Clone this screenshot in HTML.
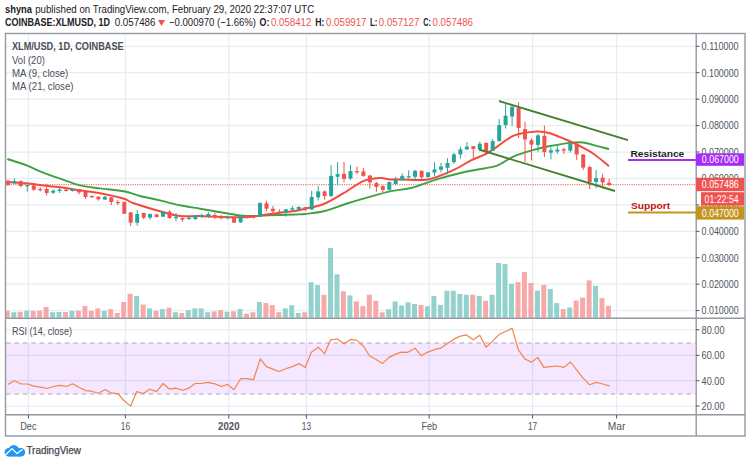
<!DOCTYPE html>
<html><head><meta charset="utf-8">
<style>
html,body{margin:0;padding:0;background:#fff;width:750px;height:465px;overflow:hidden}
svg{position:absolute;left:0;top:0;display:block}
</style></head><body>
<svg width="750" height="465" viewBox="0 0 750 465">
<line x1="28.4" y1="34" x2="28.4" y2="414" stroke="#e5eef3" stroke-width="1.25"/>
<line x1="125.4" y1="34" x2="125.4" y2="414" stroke="#e5eef3" stroke-width="1.25"/>
<line x1="228.8" y1="34" x2="228.8" y2="414" stroke="#e5eef3" stroke-width="1.25"/>
<line x1="306.4" y1="34" x2="306.4" y2="414" stroke="#e5eef3" stroke-width="1.25"/>
<line x1="429.2" y1="34" x2="429.2" y2="414" stroke="#e5eef3" stroke-width="1.25"/>
<line x1="532.6" y1="34" x2="532.6" y2="414" stroke="#e5eef3" stroke-width="1.25"/>
<line x1="616.6" y1="34" x2="616.6" y2="414" stroke="#e5eef3" stroke-width="1.25"/>
<line x1="6" y1="46.3" x2="696" y2="46.3" stroke="#e5eef3" stroke-width="1.25"/>
<line x1="6" y1="72.7" x2="696" y2="72.7" stroke="#e5eef3" stroke-width="1.25"/>
<line x1="6" y1="99.2" x2="696" y2="99.2" stroke="#e5eef3" stroke-width="1.25"/>
<line x1="6" y1="125.6" x2="696" y2="125.6" stroke="#e5eef3" stroke-width="1.25"/>
<line x1="6" y1="152.0" x2="696" y2="152.0" stroke="#e5eef3" stroke-width="1.25"/>
<line x1="6" y1="178.4" x2="696" y2="178.4" stroke="#e5eef3" stroke-width="1.25"/>
<line x1="6" y1="204.9" x2="696" y2="204.9" stroke="#e5eef3" stroke-width="1.25"/>
<line x1="6" y1="231.3" x2="696" y2="231.3" stroke="#e5eef3" stroke-width="1.25"/>
<line x1="6" y1="257.7" x2="696" y2="257.7" stroke="#e5eef3" stroke-width="1.25"/>
<line x1="6" y1="284.2" x2="696" y2="284.2" stroke="#e5eef3" stroke-width="1.25"/>
<line x1="6" y1="310.6" x2="696" y2="310.6" stroke="#e5eef3" stroke-width="1.25"/>
<line x1="6" y1="329.8" x2="696" y2="329.8" stroke="#e5eef3" stroke-width="1.25"/>
<line x1="6" y1="355.4" x2="696" y2="355.4" stroke="#e5eef3" stroke-width="1.25"/>
<line x1="6" y1="380.7" x2="696" y2="380.7" stroke="#e5eef3" stroke-width="1.25"/>
<line x1="6" y1="406.0" x2="696" y2="406.0" stroke="#e5eef3" stroke-width="1.25"/>
<rect x="6" y="343" width="689" height="51" fill="#9915ff" fill-opacity="0.1"/>
<line x1="6" y1="343" x2="696" y2="343" stroke="#c6c0cb" stroke-width="1.5" stroke-dasharray="4.5,3.9"/>
<line x1="6" y1="394" x2="696" y2="394" stroke="#c6c0cb" stroke-width="1.5" stroke-dasharray="4.5,3.9"/>
<rect x="6.0" y="310.8" width="3.8" height="6.9" fill="#f7a9a8"/>
<rect x="11.3" y="312.2" width="5.0" height="5.5" fill="#93d2cc"/>
<rect x="17.7" y="311.8" width="5.0" height="5.9" fill="#f7a9a8"/>
<rect x="24.2" y="310.8" width="5.0" height="6.9" fill="#93d2cc"/>
<rect x="30.7" y="310.8" width="5.0" height="6.9" fill="#f7a9a8"/>
<rect x="37.1" y="310.8" width="5.0" height="6.9" fill="#f7a9a8"/>
<rect x="43.6" y="307.0" width="5.0" height="10.7" fill="#f7a9a8"/>
<rect x="50.1" y="312.2" width="5.0" height="5.5" fill="#93d2cc"/>
<rect x="56.5" y="312.0" width="5.0" height="5.7" fill="#93d2cc"/>
<rect x="63.0" y="312.0" width="5.0" height="5.7" fill="#f7a9a8"/>
<rect x="69.4" y="310.8" width="5.0" height="6.9" fill="#93d2cc"/>
<rect x="75.9" y="310.8" width="5.0" height="6.9" fill="#f7a9a8"/>
<rect x="82.4" y="306.0" width="5.0" height="11.7" fill="#f7a9a8"/>
<rect x="88.8" y="310.8" width="5.0" height="6.9" fill="#f7a9a8"/>
<rect x="95.3" y="308.4" width="5.0" height="9.3" fill="#f7a9a8"/>
<rect x="101.8" y="310.8" width="5.0" height="6.9" fill="#93d2cc"/>
<rect x="108.2" y="309.1" width="5.0" height="8.6" fill="#f7a9a8"/>
<rect x="114.7" y="313.0" width="5.0" height="4.7" fill="#f7a9a8"/>
<rect x="121.2" y="302.0" width="5.0" height="15.7" fill="#f7a9a8"/>
<rect x="127.6" y="293.8" width="5.0" height="23.9" fill="#f7a9a8"/>
<rect x="134.1" y="296.1" width="5.0" height="21.6" fill="#93d2cc"/>
<rect x="140.6" y="304.5" width="5.0" height="13.2" fill="#f7a9a8"/>
<rect x="147.0" y="308.4" width="5.0" height="9.3" fill="#93d2cc"/>
<rect x="153.5" y="310.8" width="5.0" height="6.9" fill="#f7a9a8"/>
<rect x="159.9" y="309.1" width="5.0" height="8.6" fill="#93d2cc"/>
<rect x="166.4" y="307.7" width="5.0" height="10.0" fill="#f7a9a8"/>
<rect x="172.9" y="312.2" width="5.0" height="5.5" fill="#93d2cc"/>
<rect x="179.3" y="313.0" width="5.0" height="4.7" fill="#f7a9a8"/>
<rect x="185.8" y="310.0" width="5.0" height="7.7" fill="#93d2cc"/>
<rect x="192.3" y="308.4" width="5.0" height="9.3" fill="#93d2cc"/>
<rect x="198.7" y="308.4" width="5.0" height="9.3" fill="#93d2cc"/>
<rect x="205.2" y="312.2" width="5.0" height="5.5" fill="#93d2cc"/>
<rect x="211.7" y="311.3" width="5.0" height="6.4" fill="#f7a9a8"/>
<rect x="218.1" y="310.0" width="5.0" height="7.7" fill="#f7a9a8"/>
<rect x="224.6" y="311.8" width="5.0" height="5.9" fill="#93d2cc"/>
<rect x="231.0" y="311.3" width="5.0" height="6.4" fill="#f7a9a8"/>
<rect x="237.5" y="309.1" width="5.0" height="8.6" fill="#93d2cc"/>
<rect x="244.0" y="313.7" width="5.0" height="4.0" fill="#f7a9a8"/>
<rect x="250.4" y="312.2" width="5.0" height="5.5" fill="#f7a9a8"/>
<rect x="256.9" y="302.0" width="5.0" height="15.7" fill="#93d2cc"/>
<rect x="263.4" y="303.0" width="5.0" height="14.7" fill="#f7a9a8"/>
<rect x="269.8" y="305.2" width="5.0" height="12.5" fill="#f7a9a8"/>
<rect x="276.3" y="312.2" width="5.0" height="5.5" fill="#f7a9a8"/>
<rect x="282.8" y="308.4" width="5.0" height="9.3" fill="#93d2cc"/>
<rect x="289.2" y="305.2" width="5.0" height="12.5" fill="#93d2cc"/>
<rect x="295.7" y="313.0" width="5.0" height="4.7" fill="#93d2cc"/>
<rect x="302.2" y="312.3" width="5.0" height="5.4" fill="#f7a9a8"/>
<rect x="308.6" y="282.2" width="5.0" height="35.5" fill="#93d2cc"/>
<rect x="315.1" y="285.1" width="5.0" height="32.6" fill="#93d2cc"/>
<rect x="321.5" y="294.7" width="5.0" height="23.0" fill="#f7a9a8"/>
<rect x="328.0" y="248.1" width="5.0" height="69.6" fill="#93d2cc"/>
<rect x="334.5" y="274.4" width="5.0" height="43.3" fill="#93d2cc"/>
<rect x="340.9" y="291.3" width="5.0" height="26.4" fill="#f7a9a8"/>
<rect x="347.4" y="295.4" width="5.0" height="22.3" fill="#93d2cc"/>
<rect x="353.9" y="301.4" width="5.0" height="16.3" fill="#f7a9a8"/>
<rect x="360.3" y="306.1" width="5.0" height="11.6" fill="#f7a9a8"/>
<rect x="366.8" y="294.7" width="5.0" height="23.0" fill="#f7a9a8"/>
<rect x="373.3" y="300.8" width="5.0" height="16.9" fill="#f7a9a8"/>
<rect x="379.7" y="312.3" width="5.0" height="5.4" fill="#f7a9a8"/>
<rect x="386.2" y="309.2" width="5.0" height="8.5" fill="#93d2cc"/>
<rect x="392.6" y="301.4" width="5.0" height="16.3" fill="#93d2cc"/>
<rect x="399.1" y="305.4" width="5.0" height="12.3" fill="#93d2cc"/>
<rect x="405.6" y="302.3" width="5.0" height="15.4" fill="#93d2cc"/>
<rect x="412.0" y="304.0" width="5.0" height="13.7" fill="#93d2cc"/>
<rect x="418.5" y="304.9" width="5.0" height="12.8" fill="#f7a9a8"/>
<rect x="425.0" y="306.3" width="5.0" height="11.4" fill="#93d2cc"/>
<rect x="431.4" y="295.9" width="5.0" height="21.8" fill="#93d2cc"/>
<rect x="437.9" y="304.9" width="5.0" height="12.8" fill="#93d2cc"/>
<rect x="444.4" y="290.8" width="5.0" height="26.9" fill="#93d2cc"/>
<rect x="450.8" y="290.8" width="5.0" height="26.9" fill="#93d2cc"/>
<rect x="457.3" y="293.9" width="5.0" height="23.8" fill="#93d2cc"/>
<rect x="463.8" y="294.7" width="5.0" height="23.0" fill="#93d2cc"/>
<rect x="470.2" y="294.7" width="5.0" height="23.0" fill="#f7a9a8"/>
<rect x="476.7" y="295.9" width="5.0" height="21.8" fill="#93d2cc"/>
<rect x="483.1" y="300.8" width="5.0" height="16.9" fill="#f7a9a8"/>
<rect x="489.6" y="294.7" width="5.0" height="23.0" fill="#93d2cc"/>
<rect x="496.1" y="262.9" width="5.0" height="54.8" fill="#93d2cc"/>
<rect x="502.5" y="264.1" width="5.0" height="53.6" fill="#93d2cc"/>
<rect x="509.0" y="283.8" width="5.0" height="33.9" fill="#93d2cc"/>
<rect x="515.5" y="282.1" width="5.0" height="35.6" fill="#f7a9a8"/>
<rect x="521.9" y="272.1" width="5.0" height="45.6" fill="#f7a9a8"/>
<rect x="528.4" y="283.0" width="5.0" height="34.7" fill="#f7a9a8"/>
<rect x="534.9" y="290.7" width="5.0" height="27.0" fill="#93d2cc"/>
<rect x="541.3" y="285.0" width="5.0" height="32.7" fill="#f7a9a8"/>
<rect x="547.8" y="289.0" width="5.0" height="28.7" fill="#93d2cc"/>
<rect x="554.2" y="303.1" width="5.0" height="14.6" fill="#93d2cc"/>
<rect x="560.7" y="309.1" width="5.0" height="8.6" fill="#f7a9a8"/>
<rect x="567.2" y="307.5" width="5.0" height="10.2" fill="#93d2cc"/>
<rect x="573.6" y="300.5" width="5.0" height="17.2" fill="#f7a9a8"/>
<rect x="580.1" y="297.6" width="5.0" height="20.1" fill="#f7a9a8"/>
<rect x="586.6" y="280.4" width="5.0" height="37.3" fill="#f7a9a8"/>
<rect x="593.0" y="285.9" width="5.0" height="31.8" fill="#93d2cc"/>
<rect x="599.5" y="298.1" width="5.0" height="19.6" fill="#f7a9a8"/>
<rect x="606.0" y="305.8" width="5.0" height="11.9" fill="#f7a9a8"/>
<line x1="6" y1="184.6" x2="696" y2="184.6" stroke="#f07a78" stroke-width="1.4" stroke-dasharray="1.15,1.15"/>
<path d="M7.3,159.0 C10.5,160.1 21.2,163.2 26.7,165.3 C32.1,167.4 34.5,169.1 40.0,171.3 C45.5,173.5 53.3,176.4 60.0,178.7 C66.7,181.0 73.3,183.7 80.0,185.3 C86.7,186.9 92.7,187.4 100.0,188.4 C107.3,189.4 117.3,190.0 124.0,191.3 C130.7,192.6 134.0,194.5 140.0,196.0 C146.0,197.5 153.3,198.8 160.0,200.4 C166.7,202.0 173.3,203.9 180.0,205.3 C186.7,206.7 194.2,207.7 200.0,208.7 C205.8,209.7 209.2,210.3 215.0,211.3 C220.8,212.3 229.4,213.9 235.0,214.7 C240.6,215.5 242.8,215.9 248.3,216.0 C253.9,216.1 260.5,215.6 268.3,215.3 C276.1,215.1 288.9,214.7 295.0,214.5 C301.1,214.3 300.1,214.6 305.0,214.0 C309.9,213.4 317.6,212.8 324.6,211.0 C331.6,209.2 340.4,205.6 347.2,203.5 C354.0,201.4 358.2,200.2 365.3,198.2 C372.4,196.2 382.4,193.1 390.0,191.4 C397.6,189.7 403.0,190.0 410.8,188.0 C418.6,186.0 428.0,182.0 436.6,179.4 C445.2,176.8 454.4,174.4 462.5,172.5 C470.6,170.6 479.2,169.3 485.0,168.2 C490.8,167.0 492.3,167.6 497.2,165.6 C502.1,163.6 508.7,158.6 514.4,156.1 C520.1,153.6 525.9,152.0 531.6,150.4 C537.3,148.8 542.5,147.6 548.8,146.3 C555.1,145.1 563.6,143.5 569.3,142.9 C575.0,142.3 578.4,142.0 582.9,142.5 C587.4,143.0 592.0,144.7 596.4,145.8 C600.8,146.9 606.9,148.6 609.0,149.1" fill="none" stroke="#42a044" stroke-width="1.9"/>
<path d="M6.7,182.0 C10.0,182.2 21.1,182.8 26.7,183.3 C32.2,183.8 34.5,184.3 40.0,185.0 C45.5,185.7 53.3,186.4 60.0,187.3 C66.7,188.2 73.3,189.3 80.0,190.3 C86.7,191.3 92.7,191.9 100.0,193.3 C107.3,194.7 118.5,197.1 124.0,198.7 C129.5,200.3 127.0,200.9 133.0,203.0 C139.0,205.1 152.2,209.1 160.0,211.3 C167.8,213.5 173.3,215.2 180.0,216.0 C186.7,216.8 193.1,215.8 200.0,216.0 C206.9,216.2 213.6,216.8 221.7,217.0 C229.8,217.2 241.6,217.3 248.3,217.0 C255.0,216.7 256.1,216.1 261.7,215.3 C267.3,214.5 276.1,213.1 281.7,212.4 C287.2,211.7 291.1,211.6 295.0,211.0 C298.9,210.4 300.3,209.8 305.0,208.7 C309.7,207.6 316.8,206.7 323.1,204.2 C329.4,201.7 335.9,197.6 342.7,193.7 C349.5,189.8 357.5,183.5 363.8,180.9 C370.1,178.3 376.0,178.2 380.4,177.9 C384.8,177.7 386.4,179.2 390.0,179.4 C393.6,179.7 395.9,179.4 402.2,179.4 C408.5,179.4 419.4,181.0 428.0,179.4 C436.6,177.8 446.6,173.1 453.8,169.9 C461.0,166.7 465.8,163.0 471.0,160.4 C476.2,157.8 480.6,156.7 485.0,154.4 C489.4,152.1 492.3,149.8 497.2,146.6 C502.1,143.4 507.8,137.9 514.4,135.4 C521.0,132.9 530.9,131.9 536.8,131.5 C542.7,131.1 544.6,131.6 550.0,133.2 C555.4,134.8 563.8,138.6 569.3,141.0 C574.8,143.4 578.7,145.4 582.9,147.7 C587.1,149.9 590.1,151.4 594.5,154.5 C598.9,157.6 606.6,164.2 609.0,166.1" fill="none" stroke="#f44a3c" stroke-width="2"/>
<line x1="7.9" y1="179.6" x2="7.9" y2="185.7" stroke="#ef5350" stroke-width="1"/>
<rect x="6.0" y="180.7" width="3.9" height="4.3" fill="#ef5350"/>
<line x1="14.4" y1="178.3" x2="14.4" y2="184.0" stroke="#26a69a" stroke-width="1"/>
<rect x="12.4" y="181.0" width="4.0" height="2.3" fill="#26a69a"/>
<line x1="20.8" y1="180.4" x2="20.8" y2="187.3" stroke="#ef5350" stroke-width="1"/>
<rect x="18.8" y="181.0" width="4.0" height="5.0" fill="#ef5350"/>
<line x1="27.3" y1="185.0" x2="27.3" y2="191.6" stroke="#26a69a" stroke-width="1"/>
<rect x="25.3" y="185.0" width="4.0" height="1.2" fill="#26a69a"/>
<line x1="33.8" y1="185.3" x2="33.8" y2="191.0" stroke="#ef5350" stroke-width="1"/>
<rect x="31.8" y="185.3" width="4.0" height="4.4" fill="#ef5350"/>
<line x1="40.2" y1="187.0" x2="40.2" y2="191.5" stroke="#ef5350" stroke-width="1"/>
<rect x="38.2" y="189.0" width="4.0" height="1.2" fill="#ef5350"/>
<line x1="46.7" y1="183.6" x2="46.7" y2="195.6" stroke="#ef5350" stroke-width="1"/>
<rect x="44.7" y="189.0" width="4.0" height="4.0" fill="#ef5350"/>
<line x1="53.2" y1="189.3" x2="53.2" y2="194.0" stroke="#26a69a" stroke-width="1"/>
<rect x="51.2" y="190.7" width="4.0" height="2.0" fill="#26a69a"/>
<line x1="59.6" y1="188.0" x2="59.6" y2="193.0" stroke="#26a69a" stroke-width="1"/>
<rect x="57.6" y="189.5" width="4.0" height="1.5" fill="#26a69a"/>
<line x1="66.1" y1="189.0" x2="66.1" y2="191.5" stroke="#ef5350" stroke-width="1"/>
<rect x="64.1" y="189.7" width="4.0" height="1.3" fill="#ef5350"/>
<line x1="72.5" y1="188.5" x2="72.5" y2="191.5" stroke="#26a69a" stroke-width="1"/>
<rect x="70.5" y="189.0" width="4.0" height="2.0" fill="#26a69a"/>
<line x1="79.0" y1="189.0" x2="79.0" y2="194.3" stroke="#ef5350" stroke-width="1"/>
<rect x="77.0" y="189.0" width="4.0" height="3.4" fill="#ef5350"/>
<line x1="85.5" y1="192.0" x2="85.5" y2="199.0" stroke="#ef5350" stroke-width="1"/>
<rect x="83.5" y="192.0" width="4.0" height="5.0" fill="#ef5350"/>
<line x1="91.9" y1="195.5" x2="91.9" y2="198.0" stroke="#ef5350" stroke-width="1"/>
<rect x="89.9" y="196.0" width="4.0" height="1.3" fill="#ef5350"/>
<line x1="98.4" y1="196.5" x2="98.4" y2="200.7" stroke="#ef5350" stroke-width="1"/>
<rect x="96.4" y="196.7" width="4.0" height="2.6" fill="#ef5350"/>
<line x1="104.9" y1="196.0" x2="104.9" y2="200.0" stroke="#26a69a" stroke-width="1"/>
<rect x="102.9" y="196.7" width="4.0" height="2.9" fill="#26a69a"/>
<line x1="111.3" y1="197.0" x2="111.3" y2="205.0" stroke="#ef5350" stroke-width="1"/>
<rect x="109.3" y="197.3" width="4.0" height="4.7" fill="#ef5350"/>
<line x1="117.8" y1="200.0" x2="117.8" y2="205.0" stroke="#ef5350" stroke-width="1"/>
<rect x="115.8" y="202.0" width="4.0" height="1.2" fill="#ef5350"/>
<line x1="124.3" y1="201.5" x2="124.3" y2="214.0" stroke="#ef5350" stroke-width="1"/>
<rect x="122.3" y="202.0" width="4.0" height="11.7" fill="#ef5350"/>
<line x1="130.7" y1="212.0" x2="130.7" y2="226.0" stroke="#ef5350" stroke-width="1"/>
<rect x="128.7" y="212.4" width="4.0" height="10.3" fill="#ef5350"/>
<line x1="137.2" y1="210.0" x2="137.2" y2="225.7" stroke="#26a69a" stroke-width="1"/>
<rect x="135.2" y="214.0" width="4.0" height="8.7" fill="#26a69a"/>
<line x1="143.7" y1="212.5" x2="143.7" y2="219.0" stroke="#ef5350" stroke-width="1"/>
<rect x="141.7" y="213.0" width="4.0" height="4.7" fill="#ef5350"/>
<line x1="150.1" y1="213.5" x2="150.1" y2="219.5" stroke="#26a69a" stroke-width="1"/>
<rect x="148.1" y="214.0" width="4.0" height="3.7" fill="#26a69a"/>
<line x1="156.6" y1="214.0" x2="156.6" y2="217.5" stroke="#ef5350" stroke-width="1"/>
<rect x="154.6" y="214.3" width="4.0" height="2.7" fill="#ef5350"/>
<line x1="163.0" y1="211.0" x2="163.0" y2="217.0" stroke="#26a69a" stroke-width="1"/>
<rect x="161.0" y="211.6" width="4.0" height="5.1" fill="#26a69a"/>
<line x1="169.5" y1="210.0" x2="169.5" y2="219.0" stroke="#ef5350" stroke-width="1"/>
<rect x="167.5" y="211.6" width="4.0" height="6.4" fill="#ef5350"/>
<line x1="176.0" y1="213.0" x2="176.0" y2="221.0" stroke="#26a69a" stroke-width="1"/>
<rect x="174.0" y="216.8" width="4.0" height="1.4" fill="#26a69a"/>
<line x1="182.4" y1="217.5" x2="182.4" y2="222.0" stroke="#ef5350" stroke-width="1"/>
<rect x="180.4" y="218.0" width="4.0" height="1.6" fill="#ef5350"/>
<line x1="188.9" y1="216.5" x2="188.9" y2="220.0" stroke="#26a69a" stroke-width="1"/>
<rect x="186.9" y="217.5" width="4.0" height="1.5" fill="#26a69a"/>
<line x1="195.4" y1="215.0" x2="195.4" y2="220.0" stroke="#26a69a" stroke-width="1"/>
<rect x="193.4" y="215.3" width="4.0" height="3.7" fill="#26a69a"/>
<line x1="201.8" y1="213.5" x2="201.8" y2="218.0" stroke="#26a69a" stroke-width="1"/>
<rect x="199.8" y="215.0" width="4.0" height="1.4" fill="#26a69a"/>
<line x1="208.3" y1="212.0" x2="208.3" y2="218.0" stroke="#26a69a" stroke-width="1"/>
<rect x="206.3" y="214.0" width="4.0" height="2.0" fill="#26a69a"/>
<line x1="214.8" y1="212.5" x2="214.8" y2="219.0" stroke="#ef5350" stroke-width="1"/>
<rect x="212.8" y="215.0" width="4.0" height="2.0" fill="#ef5350"/>
<line x1="221.2" y1="215.0" x2="221.2" y2="219.5" stroke="#ef5350" stroke-width="1"/>
<rect x="219.2" y="217.0" width="4.0" height="1.3" fill="#ef5350"/>
<line x1="227.7" y1="215.5" x2="227.7" y2="219.5" stroke="#26a69a" stroke-width="1"/>
<rect x="225.7" y="217.0" width="4.0" height="1.2" fill="#26a69a"/>
<line x1="234.1" y1="217.0" x2="234.1" y2="223.0" stroke="#ef5350" stroke-width="1"/>
<rect x="232.1" y="217.3" width="4.0" height="5.4" fill="#ef5350"/>
<line x1="240.6" y1="215.5" x2="240.6" y2="223.0" stroke="#26a69a" stroke-width="1"/>
<rect x="238.6" y="216.0" width="4.0" height="6.3" fill="#26a69a"/>
<line x1="247.1" y1="215.5" x2="247.1" y2="218.5" stroke="#ef5350" stroke-width="1"/>
<rect x="245.1" y="216.5" width="4.0" height="1.2" fill="#ef5350"/>
<line x1="253.5" y1="215.0" x2="253.5" y2="218.5" stroke="#ef5350" stroke-width="1"/>
<rect x="251.5" y="216.5" width="4.0" height="1.2" fill="#ef5350"/>
<line x1="260.0" y1="202.5" x2="260.0" y2="217.0" stroke="#26a69a" stroke-width="1"/>
<rect x="258.0" y="203.0" width="4.0" height="13.7" fill="#26a69a"/>
<line x1="266.5" y1="200.7" x2="266.5" y2="211.3" stroke="#ef5350" stroke-width="1"/>
<rect x="264.5" y="203.3" width="4.0" height="5.4" fill="#ef5350"/>
<line x1="272.9" y1="206.0" x2="272.9" y2="214.0" stroke="#ef5350" stroke-width="1"/>
<rect x="270.9" y="208.7" width="4.0" height="2.6" fill="#ef5350"/>
<line x1="279.4" y1="209.3" x2="279.4" y2="215.0" stroke="#ef5350" stroke-width="1"/>
<rect x="277.4" y="211.6" width="4.0" height="1.7" fill="#ef5350"/>
<line x1="285.9" y1="209.0" x2="285.9" y2="216.7" stroke="#26a69a" stroke-width="1"/>
<rect x="283.9" y="209.3" width="4.0" height="3.1" fill="#26a69a"/>
<line x1="292.3" y1="206.0" x2="292.3" y2="212.0" stroke="#26a69a" stroke-width="1"/>
<rect x="290.3" y="208.2" width="4.0" height="1.5" fill="#26a69a"/>
<line x1="298.8" y1="206.5" x2="298.8" y2="210.0" stroke="#26a69a" stroke-width="1"/>
<rect x="296.8" y="206.9" width="4.0" height="2.6" fill="#26a69a"/>
<line x1="305.3" y1="207.0" x2="305.3" y2="211.4" stroke="#ef5350" stroke-width="1"/>
<rect x="303.3" y="207.2" width="4.0" height="2.3" fill="#ef5350"/>
<line x1="311.7" y1="190.7" x2="311.7" y2="210.0" stroke="#26a69a" stroke-width="1"/>
<rect x="309.7" y="197.0" width="4.0" height="12.5" fill="#26a69a"/>
<line x1="318.2" y1="186.1" x2="318.2" y2="200.5" stroke="#26a69a" stroke-width="1"/>
<rect x="316.2" y="191.4" width="4.0" height="6.0" fill="#26a69a"/>
<line x1="324.6" y1="190.4" x2="324.6" y2="199.7" stroke="#ef5350" stroke-width="1"/>
<rect x="322.6" y="191.4" width="4.0" height="4.6" fill="#ef5350"/>
<line x1="331.1" y1="165.0" x2="331.1" y2="197.4" stroke="#26a69a" stroke-width="1"/>
<rect x="329.1" y="175.9" width="4.0" height="20.1" fill="#26a69a"/>
<line x1="337.6" y1="162.0" x2="337.6" y2="185.4" stroke="#26a69a" stroke-width="1"/>
<rect x="335.6" y="174.1" width="4.0" height="2.7" fill="#26a69a"/>
<line x1="344.0" y1="162.0" x2="344.0" y2="182.4" stroke="#ef5350" stroke-width="1"/>
<rect x="342.0" y="173.8" width="4.0" height="5.1" fill="#ef5350"/>
<line x1="350.5" y1="165.0" x2="350.5" y2="180.1" stroke="#26a69a" stroke-width="1"/>
<rect x="348.5" y="171.1" width="4.0" height="7.5" fill="#26a69a"/>
<line x1="357.0" y1="166.6" x2="357.0" y2="174.1" stroke="#ef5350" stroke-width="1"/>
<rect x="355.0" y="171.1" width="4.0" height="1.2" fill="#ef5350"/>
<line x1="363.4" y1="168.0" x2="363.4" y2="176.8" stroke="#ef5350" stroke-width="1"/>
<rect x="361.4" y="171.4" width="4.0" height="4.5" fill="#ef5350"/>
<line x1="369.9" y1="174.8" x2="369.9" y2="188.4" stroke="#ef5350" stroke-width="1"/>
<rect x="367.9" y="175.6" width="4.0" height="6.8" fill="#ef5350"/>
<line x1="376.4" y1="182.0" x2="376.4" y2="191.9" stroke="#ef5350" stroke-width="1"/>
<rect x="374.4" y="183.1" width="4.0" height="3.8" fill="#ef5350"/>
<line x1="382.8" y1="185.5" x2="382.8" y2="192.0" stroke="#ef5350" stroke-width="1"/>
<rect x="380.8" y="186.1" width="4.0" height="3.8" fill="#ef5350"/>
<line x1="389.3" y1="181.5" x2="389.3" y2="190.5" stroke="#26a69a" stroke-width="1"/>
<rect x="387.3" y="182.0" width="4.0" height="7.9" fill="#26a69a"/>
<line x1="395.7" y1="176.8" x2="395.7" y2="185.4" stroke="#26a69a" stroke-width="1"/>
<rect x="393.7" y="179.9" width="4.0" height="4.1" fill="#26a69a"/>
<line x1="402.2" y1="173.4" x2="402.2" y2="180.5" stroke="#26a69a" stroke-width="1"/>
<rect x="400.2" y="175.9" width="4.0" height="4.3" fill="#26a69a"/>
<line x1="408.7" y1="170.3" x2="408.7" y2="178.5" stroke="#26a69a" stroke-width="1"/>
<rect x="406.7" y="176.3" width="4.0" height="1.2" fill="#26a69a"/>
<line x1="415.1" y1="169.9" x2="415.1" y2="179.4" stroke="#26a69a" stroke-width="1"/>
<rect x="413.1" y="170.8" width="4.0" height="6.0" fill="#26a69a"/>
<line x1="421.6" y1="170.5" x2="421.6" y2="179.4" stroke="#ef5350" stroke-width="1"/>
<rect x="419.6" y="170.8" width="4.0" height="6.3" fill="#ef5350"/>
<line x1="428.1" y1="172.0" x2="428.1" y2="177.5" stroke="#26a69a" stroke-width="1"/>
<rect x="426.1" y="172.5" width="4.0" height="4.6" fill="#26a69a"/>
<line x1="434.5" y1="162.2" x2="434.5" y2="175.9" stroke="#26a69a" stroke-width="1"/>
<rect x="432.5" y="169.4" width="4.0" height="3.1" fill="#26a69a"/>
<line x1="441.0" y1="163.0" x2="441.0" y2="172.5" stroke="#26a69a" stroke-width="1"/>
<rect x="439.0" y="166.5" width="4.0" height="3.1" fill="#26a69a"/>
<line x1="447.5" y1="158.2" x2="447.5" y2="174.2" stroke="#26a69a" stroke-width="1"/>
<rect x="445.5" y="163.0" width="4.0" height="4.8" fill="#26a69a"/>
<line x1="453.9" y1="152.7" x2="453.9" y2="163.9" stroke="#26a69a" stroke-width="1"/>
<rect x="451.9" y="154.4" width="4.0" height="7.8" fill="#26a69a"/>
<line x1="460.4" y1="146.7" x2="460.4" y2="158.7" stroke="#26a69a" stroke-width="1"/>
<rect x="458.4" y="149.3" width="4.0" height="5.1" fill="#26a69a"/>
<line x1="466.9" y1="142.0" x2="466.9" y2="150.1" stroke="#26a69a" stroke-width="1"/>
<rect x="464.9" y="146.7" width="4.0" height="2.6" fill="#26a69a"/>
<line x1="473.3" y1="146.0" x2="473.3" y2="160.0" stroke="#ef5350" stroke-width="1"/>
<rect x="471.3" y="146.2" width="4.0" height="2.7" fill="#ef5350"/>
<line x1="479.8" y1="141.5" x2="479.8" y2="149.6" stroke="#26a69a" stroke-width="1"/>
<rect x="477.8" y="143.8" width="4.0" height="5.6" fill="#26a69a"/>
<line x1="486.2" y1="142.5" x2="486.2" y2="155.2" stroke="#ef5350" stroke-width="1"/>
<rect x="484.2" y="142.8" width="4.0" height="8.1" fill="#ef5350"/>
<line x1="492.7" y1="138.9" x2="492.7" y2="151.0" stroke="#26a69a" stroke-width="1"/>
<rect x="490.7" y="141.1" width="4.0" height="9.8" fill="#26a69a"/>
<line x1="499.2" y1="119.1" x2="499.2" y2="141.5" stroke="#26a69a" stroke-width="1"/>
<rect x="497.2" y="125.1" width="4.0" height="16.0" fill="#26a69a"/>
<line x1="505.6" y1="103.6" x2="505.6" y2="128.6" stroke="#26a69a" stroke-width="1"/>
<rect x="503.6" y="115.7" width="4.0" height="9.4" fill="#26a69a"/>
<line x1="512.1" y1="106.5" x2="512.1" y2="126.0" stroke="#26a69a" stroke-width="1"/>
<rect x="510.1" y="106.7" width="4.0" height="9.8" fill="#26a69a"/>
<line x1="518.6" y1="102.2" x2="518.6" y2="138.0" stroke="#ef5350" stroke-width="1"/>
<rect x="516.6" y="107.9" width="4.0" height="20.1" fill="#ef5350"/>
<line x1="525.0" y1="121.7" x2="525.0" y2="162.1" stroke="#ef5350" stroke-width="1"/>
<rect x="523.0" y="129.1" width="4.0" height="10.3" fill="#ef5350"/>
<line x1="531.5" y1="138.4" x2="531.5" y2="160.4" stroke="#ef5350" stroke-width="1"/>
<rect x="529.5" y="140.3" width="4.0" height="4.3" fill="#ef5350"/>
<line x1="538.0" y1="133.7" x2="538.0" y2="151.8" stroke="#26a69a" stroke-width="1"/>
<rect x="536.0" y="135.4" width="4.0" height="9.5" fill="#26a69a"/>
<line x1="544.4" y1="125.6" x2="544.4" y2="157.0" stroke="#ef5350" stroke-width="1"/>
<rect x="542.4" y="135.8" width="4.0" height="16.3" fill="#ef5350"/>
<line x1="550.9" y1="147.5" x2="550.9" y2="159.4" stroke="#26a69a" stroke-width="1"/>
<rect x="548.9" y="150.2" width="4.0" height="2.4" fill="#26a69a"/>
<line x1="557.3" y1="144.7" x2="557.3" y2="154.0" stroke="#26a69a" stroke-width="1"/>
<rect x="555.3" y="149.5" width="4.0" height="2.0" fill="#26a69a"/>
<line x1="563.8" y1="147.7" x2="563.8" y2="154.1" stroke="#ef5350" stroke-width="1"/>
<rect x="561.8" y="149.3" width="4.0" height="1.3" fill="#ef5350"/>
<line x1="570.3" y1="143.0" x2="570.3" y2="152.6" stroke="#26a69a" stroke-width="1"/>
<rect x="568.3" y="143.3" width="4.0" height="7.3" fill="#26a69a"/>
<line x1="576.7" y1="141.9" x2="576.7" y2="159.9" stroke="#ef5350" stroke-width="1"/>
<rect x="574.7" y="143.8" width="4.0" height="10.7" fill="#ef5350"/>
<line x1="583.2" y1="154.0" x2="583.2" y2="170.0" stroke="#ef5350" stroke-width="1"/>
<rect x="581.2" y="154.5" width="4.0" height="13.1" fill="#ef5350"/>
<line x1="589.7" y1="165.7" x2="589.7" y2="189.3" stroke="#ef5350" stroke-width="1"/>
<rect x="587.7" y="167.1" width="4.0" height="14.9" fill="#ef5350"/>
<line x1="596.1" y1="170.0" x2="596.1" y2="188.3" stroke="#26a69a" stroke-width="1"/>
<rect x="594.1" y="178.1" width="4.0" height="3.9" fill="#26a69a"/>
<line x1="602.6" y1="173.8" x2="602.6" y2="188.3" stroke="#ef5350" stroke-width="1"/>
<rect x="600.6" y="177.7" width="4.0" height="4.8" fill="#ef5350"/>
<line x1="609.1" y1="178.5" x2="609.1" y2="186.0" stroke="#ef5350" stroke-width="1"/>
<rect x="607.1" y="182.7" width="4.0" height="2.3" fill="#ef5350"/>
<line x1="499" y1="101" x2="628" y2="140.2" stroke="#447f2e" stroke-width="1.85"/>
<line x1="479" y1="149.5" x2="615" y2="191" stroke="#447f2e" stroke-width="1.85"/>
<polyline points="7.8,384.4 14.3,380.7 20.9,383.8 27.6,384.0 33.7,386.1 40.5,387.1 47.0,388.5 53.6,386.5 59.7,385.4 66.5,386.5 72.6,383.8 79.3,387.5 85.9,390.6 91.6,391.2 98.2,393.2 105.3,389.5 111.5,393.2 117.9,393.5 123.9,400.5 130.6,406.1 136.8,391.6 143.2,393.5 149.7,389.2 156.6,391.6 163.1,383.5 169.5,389.2 175.5,388.1 182.7,390.3 188.4,388.4 195.2,383.5 201.3,383.5 208.2,382.3 215.0,383.9 221.5,386.5 227.6,384.4 234.0,389.7 240.6,378.7 247.4,378.7 253.5,379.7 260.3,358.9 266.4,366.6 272.9,369.1 279.1,371.5 285.6,368.7 292.4,366.6 299.1,363.6 305.3,367.4 311.4,352.3 318.3,347.2 324.5,353.7 330.6,339.8 337.4,339.0 344.1,344.1 350.5,339.4 356.9,340.4 363.4,346.2 369.5,355.8 376.1,359.5 382.4,363.6 389.0,357.4 395.1,354.4 401.2,352.1 407.8,352.3 415.1,348.2 421.3,355.8 427.8,352.1 434.4,349.7 440.5,348.2 446.8,344.1 453.4,339.4 459.5,336.4 466.5,334.9 473.3,339.8 479.8,335.3 486.0,347.2 492.7,341.1 499.3,334.3 506.0,331.2 512.1,328.2 518.3,349.7 524.8,358.9 531.6,362.3 537.7,357.4 543.8,367.4 550.3,366.6 557.2,366.0 563.9,367.4 570.5,362.0 576.8,370.1 582.9,377.9 589.7,384.8 596.2,382.4 602.8,384.0 609.5,385.8" fill="none" stroke="#f5844a" stroke-width="1.2" stroke-linejoin="round"/>
<line x1="628" y1="160" x2="696" y2="160" stroke="#a52bf5" stroke-width="2"/>
<line x1="628" y1="212.6" x2="696" y2="212.6" stroke="#c4951e" stroke-width="2"/>
<text x="630.5" y="156.8" font-family="Liberation Sans" font-size="9.70" fill="#1d1f27" font-weight="bold" textLength="53.8" lengthAdjust="spacingAndGlyphs">Resistance</text>
<text x="631.0" y="208.9" font-family="Liberation Sans" font-size="9.70" fill="#c41212" font-weight="bold" textLength="39.2" lengthAdjust="spacingAndGlyphs">Support</text>
<rect x="5.5" y="33.5" width="739.5" height="402.5" fill="none" stroke="#9598a1" stroke-width="1.4"/>
<line x1="696.2" y1="33.5" x2="696.2" y2="436" stroke="#9598a1" stroke-width="1.4"/>
<line x1="5.5" y1="318.3" x2="745" y2="318.3" stroke="#9598a1" stroke-width="1.4"/>
<line x1="5.5" y1="414.8" x2="745" y2="414.8" stroke="#9598a1" stroke-width="1.4"/>
<line x1="696" y1="46.3" x2="699.5" y2="46.3" stroke="#50535c" stroke-width="1"/>
<text x="701.6" y="50.1" font-family="Liberation Sans" font-size="10.20" fill="#50535c" textLength="37.0" lengthAdjust="spacingAndGlyphs">0.110000</text>
<line x1="696" y1="72.7" x2="699.5" y2="72.7" stroke="#50535c" stroke-width="1"/>
<text x="701.6" y="76.5" font-family="Liberation Sans" font-size="10.20" fill="#50535c" textLength="37.0" lengthAdjust="spacingAndGlyphs">0.100000</text>
<line x1="696" y1="99.2" x2="699.5" y2="99.2" stroke="#50535c" stroke-width="1"/>
<text x="701.6" y="103.0" font-family="Liberation Sans" font-size="10.20" fill="#50535c" textLength="37.0" lengthAdjust="spacingAndGlyphs">0.090000</text>
<line x1="696" y1="125.6" x2="699.5" y2="125.6" stroke="#50535c" stroke-width="1"/>
<text x="701.6" y="129.4" font-family="Liberation Sans" font-size="10.20" fill="#50535c" textLength="37.0" lengthAdjust="spacingAndGlyphs">0.080000</text>
<line x1="696" y1="152.0" x2="699.5" y2="152.0" stroke="#50535c" stroke-width="1"/>
<text x="701.6" y="155.8" font-family="Liberation Sans" font-size="10.20" fill="#50535c" textLength="37.0" lengthAdjust="spacingAndGlyphs">0.070000</text>
<line x1="696" y1="178.4" x2="699.5" y2="178.4" stroke="#50535c" stroke-width="1"/>
<text x="701.6" y="182.2" font-family="Liberation Sans" font-size="10.20" fill="#50535c" textLength="37.0" lengthAdjust="spacingAndGlyphs">0.060000</text>
<line x1="696" y1="204.9" x2="699.5" y2="204.9" stroke="#50535c" stroke-width="1"/>
<text x="701.6" y="208.7" font-family="Liberation Sans" font-size="10.20" fill="#50535c" textLength="37.0" lengthAdjust="spacingAndGlyphs">0.050000</text>
<line x1="696" y1="231.3" x2="699.5" y2="231.3" stroke="#50535c" stroke-width="1"/>
<text x="701.6" y="235.1" font-family="Liberation Sans" font-size="10.20" fill="#50535c" textLength="37.0" lengthAdjust="spacingAndGlyphs">0.040000</text>
<line x1="696" y1="257.7" x2="699.5" y2="257.7" stroke="#50535c" stroke-width="1"/>
<text x="701.6" y="261.5" font-family="Liberation Sans" font-size="10.20" fill="#50535c" textLength="37.0" lengthAdjust="spacingAndGlyphs">0.030000</text>
<line x1="696" y1="284.2" x2="699.5" y2="284.2" stroke="#50535c" stroke-width="1"/>
<text x="701.6" y="288.0" font-family="Liberation Sans" font-size="10.20" fill="#50535c" textLength="37.0" lengthAdjust="spacingAndGlyphs">0.020000</text>
<line x1="696" y1="310.6" x2="699.5" y2="310.6" stroke="#50535c" stroke-width="1"/>
<text x="701.6" y="314.4" font-family="Liberation Sans" font-size="10.20" fill="#50535c" textLength="37.0" lengthAdjust="spacingAndGlyphs">0.010000</text>
<line x1="696" y1="329.8" x2="699.5" y2="329.8" stroke="#50535c" stroke-width="1"/>
<text x="701.6" y="333.6" font-family="Liberation Sans" font-size="10.20" fill="#50535c" textLength="23.0" lengthAdjust="spacingAndGlyphs">80.00</text>
<line x1="696" y1="355.4" x2="699.5" y2="355.4" stroke="#50535c" stroke-width="1"/>
<text x="701.6" y="359.2" font-family="Liberation Sans" font-size="10.20" fill="#50535c" textLength="23.0" lengthAdjust="spacingAndGlyphs">60.00</text>
<line x1="696" y1="380.7" x2="699.5" y2="380.7" stroke="#50535c" stroke-width="1"/>
<text x="701.6" y="384.5" font-family="Liberation Sans" font-size="10.20" fill="#50535c" textLength="23.0" lengthAdjust="spacingAndGlyphs">40.00</text>
<line x1="696" y1="406.0" x2="699.5" y2="406.0" stroke="#50535c" stroke-width="1"/>
<text x="701.6" y="409.8" font-family="Liberation Sans" font-size="10.20" fill="#50535c" textLength="23.0" lengthAdjust="spacingAndGlyphs">20.00</text>
<rect x="696.0" y="153.3" width="48.0" height="12.5" fill="#a52bf5"/>
<text x="701.8" y="163.2" font-family="Liberation Sans" font-size="10.20" fill="#ffffff" textLength="37.0" lengthAdjust="spacingAndGlyphs">0.067000</text>
<rect x="696.0" y="177.8" width="48.0" height="13.4" fill="#ef5350"/>
<text x="701.8" y="188.2" font-family="Liberation Sans" font-size="10.20" fill="#ffffff" textLength="37.0" lengthAdjust="spacingAndGlyphs">0.057486</text>
<rect x="701" y="192.2" width="43" height="13.4" fill="#ef5350"/>
<text x="704.6" y="202.7" font-family="Liberation Sans" font-size="10.20" fill="#ffffff" textLength="34.0" lengthAdjust="spacingAndGlyphs">01:22:54</text>
<rect x="696.0" y="206.2" width="48.0" height="13.4" fill="#c4951e"/>
<text x="701.8" y="216.6" font-family="Liberation Sans" font-size="10.20" fill="#ffffff" textLength="37.0" lengthAdjust="spacingAndGlyphs">0.047000</text>
<line x1="28.4" y1="415" x2="28.4" y2="418.5" stroke="#50535c" stroke-width="1"/>
<text x="20.2" y="429.8" font-family="Liberation Sans" font-size="10.00" fill="#50535c" textLength="16.4" lengthAdjust="spacingAndGlyphs">Dec</text>
<line x1="125.4" y1="415" x2="125.4" y2="418.5" stroke="#50535c" stroke-width="1"/>
<text x="120.8" y="429.8" font-family="Liberation Sans" font-size="10.00" fill="#50535c" textLength="9.2" lengthAdjust="spacingAndGlyphs">16</text>
<line x1="228.8" y1="415" x2="228.8" y2="418.5" stroke="#50535c" stroke-width="1"/>
<text x="218.1" y="429.8" font-family="Liberation Sans" font-size="10.00" fill="#50535c" font-weight="bold" textLength="21.4" lengthAdjust="spacingAndGlyphs">2020</text>
<line x1="306.4" y1="415" x2="306.4" y2="418.5" stroke="#50535c" stroke-width="1"/>
<text x="301.8" y="429.8" font-family="Liberation Sans" font-size="10.00" fill="#50535c" textLength="9.2" lengthAdjust="spacingAndGlyphs">13</text>
<line x1="429.2" y1="415" x2="429.2" y2="418.5" stroke="#50535c" stroke-width="1"/>
<text x="421.4" y="429.8" font-family="Liberation Sans" font-size="10.00" fill="#50535c" textLength="15.6" lengthAdjust="spacingAndGlyphs">Feb</text>
<line x1="532.6" y1="415" x2="532.6" y2="418.5" stroke="#50535c" stroke-width="1"/>
<text x="528.0" y="429.8" font-family="Liberation Sans" font-size="10.00" fill="#50535c" textLength="9.2" lengthAdjust="spacingAndGlyphs">17</text>
<line x1="616.6" y1="415" x2="616.6" y2="418.5" stroke="#50535c" stroke-width="1"/>
<text x="607.8" y="429.8" font-family="Liberation Sans" font-size="10.00" fill="#50535c" textLength="17.6" lengthAdjust="spacingAndGlyphs">Mar</text>
<text x="5.0" y="12.8" font-family="Liberation Sans" font-size="10.80" fill="#1e2028" font-weight="bold" textLength="27.0" lengthAdjust="spacingAndGlyphs">shyna</text>
<text x="35.2" y="12.8" font-family="Liberation Sans" font-size="10.80" fill="#1e2028" textLength="279.0" lengthAdjust="spacingAndGlyphs">published on TradingView.com, February 29, 2020 22:37:07 UTC</text>
<text x="5.0" y="25.8" font-family="Liberation Sans" font-size="10.80" fill="#1e2028" font-weight="bold" textLength="105.0" lengthAdjust="spacingAndGlyphs">COINBASE:XLMUSD, 1D</text>
<text x="114.7" y="25.8" font-family="Liberation Sans" font-size="10.80" fill="#1e2028" textLength="40.8" lengthAdjust="spacingAndGlyphs">0.057486</text>
<path d="M158,20 L165,20 L161.5,26 Z" fill="#ef5350"/>
<text x="169.0" y="25.8" font-family="Liberation Sans" font-size="10.80" fill="#1e2028" textLength="87.0" lengthAdjust="spacingAndGlyphs">&#8722;0.000970 (&#8722;1.66%)</text>
<text x="259.5" y="25.8" font-family="Liberation Sans" font-size="10.80" fill="#1e2028" font-weight="bold" textLength="9.9" lengthAdjust="spacingAndGlyphs">O:</text>
<text x="270.9" y="25.8" font-family="Liberation Sans" font-size="10.80" fill="#ef5350" textLength="40.5" lengthAdjust="spacingAndGlyphs">0.058412</text>
<text x="315.3" y="25.8" font-family="Liberation Sans" font-size="10.80" fill="#1e2028" font-weight="bold" textLength="9.2" lengthAdjust="spacingAndGlyphs">H:</text>
<text x="326.0" y="25.8" font-family="Liberation Sans" font-size="10.80" fill="#ef5350" textLength="40.5" lengthAdjust="spacingAndGlyphs">0.059917</text>
<text x="370.0" y="25.8" font-family="Liberation Sans" font-size="10.80" fill="#1e2028" font-weight="bold" textLength="7.3" lengthAdjust="spacingAndGlyphs">L:</text>
<text x="378.8" y="25.8" font-family="Liberation Sans" font-size="10.80" fill="#ef5350" textLength="40.5" lengthAdjust="spacingAndGlyphs">0.057127</text>
<text x="423.3" y="25.8" font-family="Liberation Sans" font-size="10.80" fill="#1e2028" font-weight="bold" textLength="7.7" lengthAdjust="spacingAndGlyphs">C:</text>
<text x="432.5" y="25.8" font-family="Liberation Sans" font-size="10.80" fill="#ef5350" textLength="40.5" lengthAdjust="spacingAndGlyphs">0.057486</text>
<text x="11.9" y="50.3" font-family="Liberation Sans" font-size="10.80" fill="#4b4e57" font-weight="bold" textLength="111.8" lengthAdjust="spacingAndGlyphs">XLM/USD, 1D, COINBASE</text>
<text x="12.0" y="63.6" font-family="Liberation Sans" font-size="10.80" fill="#4b4e57" textLength="32.9" lengthAdjust="spacingAndGlyphs">Vol (20)</text>
<text x="12.0" y="76.6" font-family="Liberation Sans" font-size="10.80" fill="#4b4e57" textLength="56.3" lengthAdjust="spacingAndGlyphs">MA (9, close)</text>
<text x="12.0" y="89.6" font-family="Liberation Sans" font-size="10.80" fill="#4b4e57" textLength="61.5" lengthAdjust="spacingAndGlyphs">MA (21, close)</text>
<text x="11.9" y="335.3" font-family="Liberation Sans" font-size="10.80" fill="#4b4e57" textLength="60.1" lengthAdjust="spacingAndGlyphs">RSI (14, close)</text>
<text x="26.4" y="454.2" font-family="Liberation Sans" font-size="10.40" fill="#454851" textLength="54.6" lengthAdjust="spacingAndGlyphs" stroke="#454851" stroke-width="0.25">TradingView</text>
<g fill="#2196f3"><circle cx="8.9" cy="452.3" r="4.3"/><circle cx="13.8" cy="450.6" r="5.6"/><circle cx="20.9" cy="452.3" r="4.3"/><rect x="8.9" y="451" width="12" height="5.6"/></g>
<polyline points="5.6,454.8 12,448.6 17,453.6 22.4,449.4" fill="none" stroke="#fff" stroke-width="1.3" stroke-linejoin="round"/>
</svg>
</body></html>
